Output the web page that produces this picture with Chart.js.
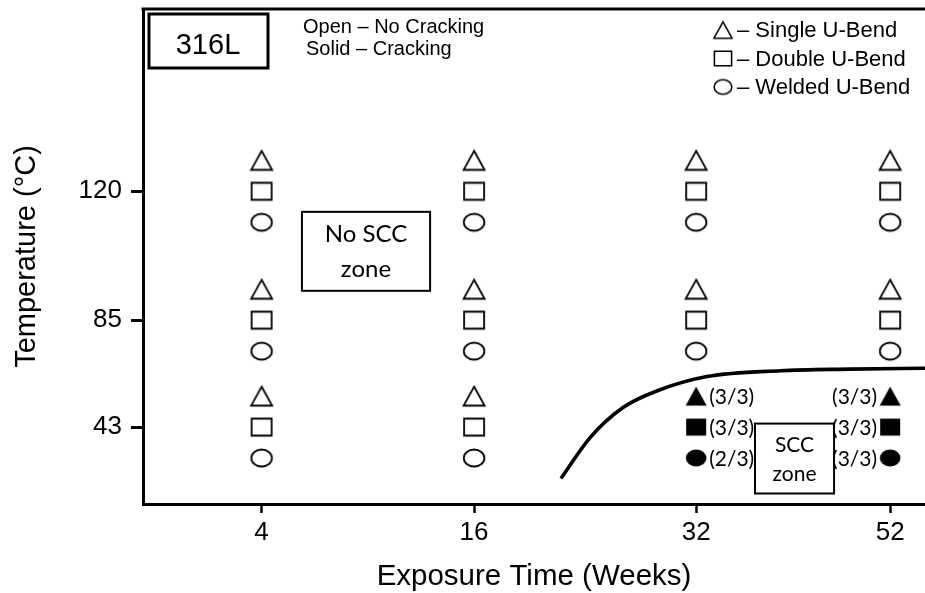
<!DOCTYPE html>
<html>
<head>
<meta charset="utf-8">
<script src="https://cdn.jsdelivr.net/npm/chart.js@4.4.0/dist/chart.umd.min.js"></script>
<style>
  html, body { margin: 0; padding: 0; background: #fff; }
  #wrap { width: 925px; height: 593px; }
</style>
</head>
<body>
<div id="wrap"><canvas id="chart" width="925" height="593"></canvas></div>
<script>
// ---- data ----
const weeks = ['4', '16', '32', '52'];
const temps = ['120', '85', '43'];
const specimens = ['Single U-Bend', 'Double U-Bend', 'Welded U-Bend'];
const perSet = 3;
// cracked specimens out of three: rows follow temps, columns follow weeks
const singleCracked = [[0, 0, 0, 0], [0, 0, 0, 0], [0, 0, 3, 3]];
const doubleCracked = [[0, 0, 0, 0], [0, 0, 0, 0], [0, 0, 3, 3]];
const weldedCracked = [[0, 0, 0, 0], [0, 0, 0, 0], [0, 0, 2, 3]];
// SCC boundary curve, in axis units
const boundaryX = [1.409, 1.546, 1.701, 1.866, 2.096, 2.44, 2.769, 3.122];
const boundaryY = [-1.66, -0.34, 0.63, 1.18, 1.63, 1.82, 1.87, 1.9];

// ---- axis layout ----
const X_COL = [0, 1, 2.045, 2.958];   // placement of each exposure time
const Y_ROW = [7.613, 3.452, 0];      // placement of each temperature
const SHIFT = [1, 0, -1];             // triangle above, square on, circle below the row

const SANS = '"Liberation Sans", Arial, sans-serif';
const SOFT = 'Lato, "Open Sans", sans-serif';

function marker(shape, filled, scale) {
  const k = scale || 1;
  const c = document.createElement('canvas');
  c.width = Math.round(26 * k); c.height = Math.round(24 * k);
  const g = c.getContext('2d');
  const cx = c.width / 2, cy = c.height / 2;
  g.lineWidth = 1.8 * k;
  g.strokeStyle = '#000';
  g.fillStyle = '#000';
  g.beginPath();
  if (shape === 'triangle') {
    g.moveTo(cx, cy - 9.5 * k);
    g.lineTo(cx + 10.5 * k, cy + 9.5 * k);
    g.lineTo(cx - 10.5 * k, cy + 9.5 * k);
    g.closePath();
  } else if (shape === 'rect') {
    g.rect(cx - 10 * k, cy - 8.5 * k, 20 * k, 17 * k);
  } else {
    g.ellipse(cx, cy, 10.3 * k, 8.5 * k, 0, 0, Math.PI * 2);
  }
  if (filled) g.fill(); else g.stroke();
  return c;
}

const shapes = ['triangle', 'rect', 'circle'];
const crackTables = [singleCracked, doubleCracked, weldedCracked];

const datasets = [];
specimens.forEach((name, k) => {
  const open = [], solid = [];
  temps.forEach((t, i) => {
    weeks.forEach((w, j) => {
      const n = crackTables[k][i][j];
      const p = { x: X_COL[j], y: Y_ROW[i] + SHIFT[k], col: j };
      if (n > 0) { p.label = '(' + n + '/' + perSet + ')'; solid.push(p); }
      else open.push(p);
    });
  });
  datasets.push({ label: name + ' – no cracking', data: open, pointStyle: marker(shapes[k], false), showLine: false });
  datasets.push({ label: name + ' – cracking', data: solid, pointStyle: marker(shapes[k], true), showLine: false, crack: true });
});
datasets.push({
  label: 'SCC boundary',
  data: boundaryX.map((x, i) => ({ x, y: boundaryY[i] })),
  showLine: true, pointRadius: 0, borderColor: '#000', borderWidth: 3.6,
  cubicInterpolationMode: 'monotone', fill: false
});

const notes = {
  id: 'notes',
  afterDatasetsDraw(chart) {
    const ctx = chart.ctx;
    const { left, top } = chart.chartArea;
    const W = chart.width;
    const xs = chart.scales.x, ys = chart.scales.y;
    ctx.save();
    // crack counts beside the solid markers
    ctx.fillStyle = '#000';
    ctx.font = '21px ' + SOFT;
    ctx.textBaseline = 'middle';
    chart.data.datasets.forEach((ds, di) => {
      if (!ds.crack) return;
      const meta = chart.getDatasetMeta(di);
      ds.data.forEach((p, pi) => {
        const el = meta.data[pi];
        if (p.col === weeks.length - 1) { ctx.textAlign = 'right'; ctx.fillText(p.label, el.x - 13, el.y + 1); }
        else { ctx.textAlign = 'left'; ctx.fillText(p.label, el.x + 13, el.y + 1); }
      });
    });

    // frame top edge, running off the right side
    ctx.strokeStyle = '#000';
    ctx.lineWidth = 3;
    ctx.beginPath();
    ctx.moveTo(left - 1.5, top);
    ctx.lineTo(W, top);
    ctx.stroke();

    // alloy box
    ctx.lineWidth = 3;
    ctx.strokeRect(left + 6, top + 5, 119, 54);
    ctx.font = '29px ' + SANS;
    ctx.textAlign = 'center';
    ctx.textBaseline = 'alphabetic';
    ctx.fillText('316L', left + 65, top + 45);

    // open/solid note
    ctx.font = '20px ' + SANS;
    ctx.textAlign = 'left';
    ctx.fillText('Open – No Cracking', left + 160, top + 24);
    ctx.fillText('Solid – Cracking', left + 163, top + 46);

    // specimen key
    ctx.font = '22px ' + SANS;
    specimens.forEach((name, k) => {
      const img = marker(shapes[k], false, 0.86);
      const cy = top + 21 + k * 28.5;
      ctx.drawImage(img, 723 - img.width / 2, cy - img.height / 2);
      ctx.fillText('– ' + name, 737, cy + 7);
    });

    // zone boxes, placed in axis units
    ctx.lineWidth = 2;
    const box = (x0, x1, y0, y1, lines, size, gap) => {
      const px0 = xs.getPixelForValue(x0), px1 = xs.getPixelForValue(x1);
      const py0 = ys.getPixelForValue(y0), py1 = ys.getPixelForValue(y1);
      ctx.strokeRect(px0, py0, px1 - px0, py1 - py0);
      ctx.font = size + 'px ' + SOFT;
      ctx.textAlign = 'center';
      ctx.textBaseline = 'alphabetic';
      const cx = (px0 + px1) / 2, cy = (py0 + py1) / 2;
      lines.forEach((s, i) => ctx.fillText(s, cx, cy + (i - (lines.length - 1) / 2) * gap + size * 0.36));
    };
    box(0.19, 0.793, 6.95, 4.40, ['No SCC', 'zone'], 24, 35);
    box(2.322, 2.694, 0.113, -2.145, ['SCC', 'zone'], 21, 29);
    ctx.restore();
  }
};

new Chart(document.getElementById('chart'), {
  type: 'scatter',
  data: { datasets },
  options: {
    responsive: false,
    animation: false,
    events: [],
    layout: { autoPadding: false, padding: { top: 9, right: 0, left: 0, bottom: 0 } },
    plugins: { legend: { display: false }, tooltip: { enabled: false } },
    scales: {
      x: {
        type: 'linear', min: -0.558, max: 3.122,
        afterBuildTicks: s => { s.ticks = X_COL.map(v => ({ value: v })); },
        afterFit: s => { s.height = 89; s.paddingLeft = 0; s.paddingRight = 0; },
        ticks: {
          callback: (v, i) => weeks[i],
          font: { family: SANS, size: 26 }, color: '#000', padding: 4, maxRotation: 0
        },
        grid: { drawOnChartArea: false, drawTicks: true, tickLength: 9, tickWidth: 2.5, tickColor: '#000' },
        border: { display: true, color: '#000', width: 3 },
        title: {
          display: true, text: 'Exposure Time (Weeks)', color: '#000',
          font: { family: SANS, size: 29.5, lineHeight: 1.1 }, padding: { top: 0, bottom: 0 }
        }
      },
      y: {
        type: 'linear', min: -2.484, max: 13.5,
        afterBuildTicks: s => { s.ticks = Y_ROW.map(v => ({ value: v })); },
        afterFit: s => { s.width = 143; s.paddingTop = 0; s.paddingBottom = 0; },
        ticks: {
          callback: (v, i) => temps[i],
          font: { family: SANS, size: 26 }, color: '#000', padding: 9
        },
        grid: { drawOnChartArea: false, drawTicks: true, tickLength: 12, tickWidth: 3, tickColor: '#000' },
        border: { display: true, color: '#000', width: 3 },
        title: {
          display: true, text: 'Temperature (°C)', color: '#000',
          font: { family: SANS, size: 29, lineHeight: 1.1 }, padding: { top: 11, bottom: 0 }
        }
      }
    }
  },
  plugins: [notes]
});
</script>
</body>
</html>
